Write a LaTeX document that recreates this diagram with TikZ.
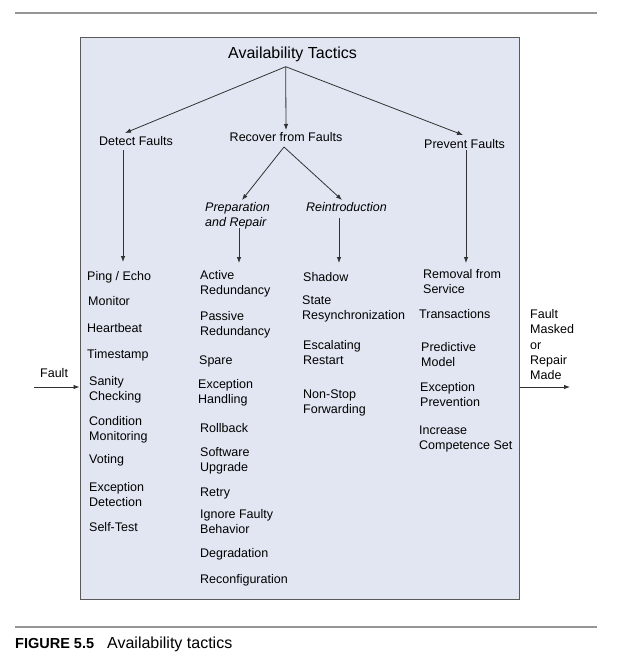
\documentclass[tikz,border=0pt]{standalone}
\usepackage{fontspec}
\setmainfont{Liberation Sans}
\usetikzlibrary{arrows.meta}
\definecolor{boxfill}{RGB}{225,230,242}
\definecolor{boxline}{RGB}{90,90,90}
\definecolor{ruleline}{RGB}{150,150,150}
\definecolor{arrowline}{RGB}{50,50,50}
\begin{document}
\begin{tikzpicture}[x=1bp,y=-1bp,
  item/.style={anchor=base west, inner sep=0pt, align=left, font=\fontsize{12.5bp}{15bp}\selectfont},
  ititem/.style={item, font=\fontsize{12.5bp}{15bp}\selectfont\itshape},
  head/.style={anchor=base, inner sep=0pt, font=\fontsize{12.5bp}{15bp}\selectfont},
  conn/.style={draw=arrowline, line width=0.8bp, -{Latex[length=6bp,width=4.5bp]}},
  rulestyle/.style={draw=ruleline, line width=2bp}]
\useasboundingbox (0,0) rectangle (639,666);
% rules
\coordinate (r1a) at (15,13.5); \coordinate (r1b) at (597,13.5);
\coordinate (r2a) at (15,627); \coordinate (r2b) at (597,627);
\draw[rulestyle] (r1a) -- (r1b);
\draw[rulestyle] (r2a) -- (r2b);
% main box
\node[draw=boxline, fill=boxfill, line width=0.9bp, minimum width=439.5bp, minimum height=561.5bp, inner sep=0pt, anchor=north west] (frame) at (79.5,37.5) {};
% title and headings
\node[anchor=base, inner sep=0pt, font=\fontsize{16bp}{19bp}\selectfont] (title) at (292.5,59) {Availability Tactics};
\node[head] (detect) at (136,145.5) {Detect Faults};
\node[head] (recover) at (286,141.5) {Recover from Faults};
\node[head] (prevent) at (464.5,148.5) {Prevent Faults};
% (multi-line nodes: base anchor = baseline of the last line)
\node[ititem] (prep) at (205,226.5) {Preparation\\and Repair};
\node[ititem] (reintro) at (306,211.5) {Reintroduction};
% connector points
\coordinate (apex) at (285.7,66.7);
\coordinate (detTip) at (125,133);
\coordinate (recTip) at (286,130);
\coordinate (prevTip) at (463,135);
\coordinate (recApex) at (284,147);
\coordinate (prepTip) at (242,200);
\coordinate (reinTip) at (342,200);
\coordinate (detA) at (123,150); \coordinate (detB) at (123,262);
\coordinate (prepA) at (239,228); \coordinate (prepB) at (239,263);
\coordinate (reinA) at (339,218); \coordinate (reinB) at (339,263);
\coordinate (prevA) at (466,150); \coordinate (prevB) at (466,263);
\coordinate (faultIn) at (34,387);
\coordinate (outEnd) at (570,387);
\draw[conn] (apex) -- (detTip);
\draw[conn] (apex) -- (recTip);
\draw[conn] (apex) -- (prevTip);
\draw[conn] (recApex) -- (prepTip);
\draw[conn] (recApex) -- (reinTip);
\draw[conn] (detA) -- (detB);
\draw[conn] (prepA) -- (prepB);
\draw[conn] (reinA) -- (reinB);
\draw[conn] (prevA) -- (prevB);
\draw[conn] (faultIn) -- (frame.west |- faultIn);
\draw[conn] (frame.east |- outEnd) -- (outEnd);
% detect faults items
\node[item] (d1) at (87,280.5) {Ping / Echo};
\node[item] (d2) at (88,305.5) {Monitor};
\node[item] (d3) at (87,332.5) {Heartbeat};
\node[item] (d4) at (87,358.5) {Timestamp};
\node[item] (d5) at (89,400.5) {Sanity\\Checking};
\node[item] (d6) at (89,440.5) {Condition\\Monitoring};
\node[item] (d7) at (89,463.5) {Voting};
\node[item] (d8) at (89,506.5) {Exception\\Detection};
\node[item] (d9) at (89,531.5) {Self-Test};
% preparation and repair items
\node[item] (p1) at (200,294.5) {Active\\Redundancy};
\node[item] (p2) at (200,335.5) {Passive\\Redundancy};
\node[item] (p3) at (199,364.5) {Spare};
\node[item] (p4) at (198,403.5) {Exception\\Handling};
\node[item] (p5) at (200,432.5) {Rollback};
\node[item] (p6) at (200,471.5) {Software\\Upgrade};
\node[item] (p7) at (200,496.5) {Retry};
\node[item] (p8) at (200,533.5) {Ignore Faulty\\Behavior};
\node[item] (p9) at (200,557.5) {Degradation};
\node[item] (p10) at (200,583.5) {Reconfiguration};
% reintroduction items
\node[item] (r1) at (303,281.5) {Shadow};
\node[item] (r2) at (302,319.5) {State\\Resynchronization};
\node[item] (r3) at (303,364.5) {Escalating\\Restart};
\node[item] (r4) at (303,413.5) {Non-Stop\\Forwarding};
% prevent faults items
\node[item] (v1) at (423,293.5) {Removal from\\Service};
\node[item] (v2) at (419,318.5) {Transactions};
\node[item] (v3) at (421,366.5) {Predictive\\Model};
\node[item] (v4) at (420,406.5) {Exception\\Prevention};
\node[item] (v5) at (419,449.5) {Increase\\Competence Set};
% in / out labels
\node[item] (faultlbl) at (40,377.5) {Fault};
\node[item, font=\fontsize{12.5bp}{15.3bp}\selectfont] (outlbl) at (530,379.7) {Fault\\Masked\\or\\Repair\\Made};
% caption
\node[anchor=base west, inner sep=0pt, font=\fontsize{14.5bp}{17bp}\selectfont\bfseries] (capnum) at (15,648.5) {FIGURE 5.5};
\node[anchor=base west, inner sep=0pt, font=\fontsize{16bp}{19bp}\selectfont] (captext) at (107,648.5) {Availability tactics};
\end{tikzpicture}
\end{document}
